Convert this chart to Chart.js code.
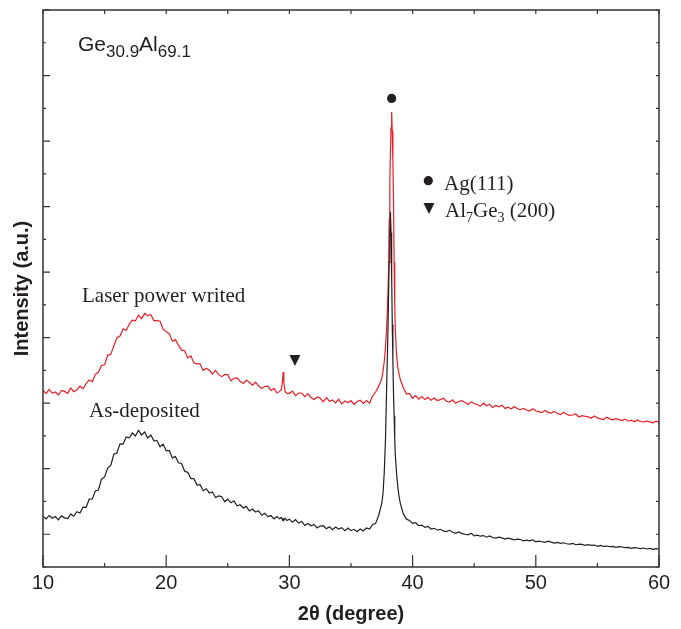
<!DOCTYPE html>
<html>
<head>
<meta charset="utf-8">
<script src="https://cdn.jsdelivr.net/npm/chart.js@4/dist/chart.umd.min.js"></script>
<style>
html,body{margin:0;padding:0;background:#fff;}
#wrap{width:681px;height:629px;}
</style>
</head>
<body>
<div id="wrap"><canvas id="c" width="681" height="629"></canvas></div>
<script>
// 2θ positions (degrees)
const twoTheta = [
  10,10.25,10.5,10.75,11,11.25,11.5,11.75,12,12.25,
  12.5,12.75,13,13.25,13.5,13.75,14,14.25,14.5,14.75,
  15,15.25,15.5,15.75,16,16.25,16.5,16.75,17,17.25,
  17.5,17.75,18,18.25,18.5,18.75,19,19.25,19.5,19.75,
  20,20.25,20.5,20.75,21,21.25,21.5,21.75,22,22.25,
  22.5,22.75,23,23.25,23.5,23.75,24,24.25,24.5,24.75,
  25,25.25,25.5,25.75,26,26.25,26.5,26.75,27,27.25,
  27.5,27.75,28,28.25,28.5,28.75,29,
  29.2,29.35,29.45,29.5,29.55,29.65,29.8,
  30,30.25,30.5,30.75,31,31.25,31.5,31.75,32,32.25,
  32.5,32.75,33,33.25,33.5,33.75,34,34.25,34.5,34.75,
  35,35.25,35.5,35.75,36,36.25,36.5,36.75,37,37.25,
  37.5,37.6,37.7,37.8,37.9,38,38.05,38.1,38.15,38.2,38.25,
  38.3,38.35,38.4,38.45,38.5,38.55,38.6,38.7,38.8,38.9,39,
  39.25,39.5,39.75,40,40.25,40.5,40.75,41,41.25,41.5,
  41.75,42,42.25,42.5,42.75,43,43.25,43.5,43.75,44,
  44.25,44.5,44.75,45,45.25,45.5,45.75,46,46.25,46.5,
  46.75,47,47.25,47.5,47.75,48,48.25,48.5,48.75,49,
  49.25,49.5,49.75,50,50.25,50.5,50.75,51,51.25,51.5,
  51.75,52,52.25,52.5,52.75,53,53.25,53.5,53.75,54,
  54.25,54.5,54.75,55,55.25,55.5,55.75,56,56.25,56.5,
  56.75,57,57.25,57.5,57.75,58,58.25,58.5,58.75,59,
  59.25,59.5,59.75,60
];

// "Laser power writed" (red)
const laserWrited = [
  5.39,5.29,5.42,5.31,5.34,5.25,5.39,5.36,5.30,5.46,
  5.35,5.41,5.52,5.44,5.60,5.71,5.66,5.88,5.95,6.15,
  6.17,6.46,6.49,6.75,6.99,7.05,7.27,7.22,7.41,7.53,
  7.51,7.69,7.58,7.74,7.67,7.70,7.52,7.52,7.50,7.26,
  7.18,7.13,6.89,6.94,6.77,6.62,6.60,6.38,6.44,6.23,
  6.20,6.20,6.00,6.06,6.01,5.89,6.00,5.87,5.81,5.87,
  5.87,5.68,5.76,5.77,5.67,5.60,5.70,5.64,5.55,5.64,
  5.53,5.45,5.51,5.52,5.39,5.45,5.31,
  5.36,5.42,5.70,5.95,5.62,5.36,5.30,
  5.30,5.37,5.23,5.31,5.31,5.20,5.29,5.17,5.11,5.19,
  5.15,5.04,5.17,5.06,5.10,5.01,5.12,4.98,5.07,5.02,
  5.08,4.96,5.05,5.09,4.99,5.08,5.00,5.22,5.34,5.52,
  5.75,5.98,6.28,6.70,7.35,8.35,9.10,10.6,11.7,12.6,13.4,
  13.89,13.3,12.4,11.2,9.3,8.0,7.2,6.45,6.10,5.90,5.72,
  5.47,5.28,5.30,5.15,5.23,5.12,5.20,5.11,5.18,5.09,
  5.16,5.08,5.11,5.15,5.06,5.03,5.10,5.00,5.05,5.08,
  5.02,4.96,5.04,4.99,4.95,4.91,5.00,4.92,4.97,4.87,
  4.93,4.89,4.94,4.84,4.88,4.82,4.90,4.83,4.80,4.84,
  4.79,4.76,4.83,4.77,4.74,4.71,4.78,4.72,4.70,4.75,
  4.69,4.65,4.72,4.66,4.63,4.64,4.67,4.58,4.62,4.60,
  4.58,4.54,4.61,4.55,4.52,4.50,4.57,4.52,4.49,4.53,
  4.50,4.47,4.51,4.45,4.48,4.43,4.49,4.44,4.42,4.46,
  4.43,4.40,4.45,4.42
];

// "As-deposited" (black)
const asDeposited = [
  1.55,1.47,1.57,1.49,1.54,1.44,1.56,1.50,1.48,1.62,
  1.55,1.69,1.65,1.83,1.82,2.07,2.08,2.32,2.35,2.68,
  2.75,3.02,3.10,3.44,3.48,3.76,3.75,3.97,3.94,4.09,
  4.00,4.17,4.03,4.12,3.94,4.03,3.85,3.86,3.67,3.75,
  3.55,3.55,3.33,3.37,3.18,3.16,2.92,2.89,2.70,2.70,
  2.50,2.51,2.33,2.39,2.26,2.29,2.12,2.17,2.15,1.99,
  2.07,1.96,2.02,1.87,1.90,1.80,1.85,1.71,1.77,1.68,
  1.72,1.58,1.64,1.54,1.57,1.47,1.54,
  1.47,1.51,1.43,1.47,1.44,1.49,1.42,
  1.46,1.37,1.45,1.34,1.39,1.27,1.33,1.26,1.30,1.19,
  1.25,1.26,1.17,1.23,1.14,1.22,1.16,1.20,1.11,1.19,
  1.11,1.15,1.08,1.16,1.10,1.19,1.16,1.29,1.33,1.58,
  1.95,2.25,2.90,3.90,5.60,7.20,8.30,9.30,10.2,10.84,10.2,
  8.90,7.40,6.30,5.30,4.60,3.90,3.40,2.85,2.45,2.15,1.95,
  1.62,1.46,1.42,1.33,1.35,1.26,1.28,1.21,1.24,1.16,
  1.18,1.13,1.15,1.10,1.08,1.12,1.06,1.03,1.07,1.02,
  1.00,0.98,1.03,0.95,0.97,0.94,0.96,0.91,0.95,0.90,
  0.88,0.91,0.89,0.85,0.88,0.86,0.83,0.85,0.84,0.80,
  0.82,0.80,0.83,0.77,0.79,0.77,0.75,0.79,0.76,0.73,
  0.75,0.72,0.74,0.71,0.70,0.72,0.68,0.70,0.69,0.66,
  0.68,0.66,0.67,0.63,0.66,0.63,0.64,0.62,0.63,0.60,
  0.62,0.61,0.59,0.60,0.57,0.59,0.58,0.56,0.58,0.55,
  0.57,0.54,0.56,0.55
];

// Axis ranges / ticks
const xTickStep = 5;
const xLabelEvery = 10;
const yTickStep = 1;

const INK = '#231f20';
const SANS = '"Liberation Sans", Arial, sans-serif';
const SERIF = '"Liberation Serif", "Times New Roman", serif';

const decor = {
  id: 'decor',
  afterDraw(chart) {
    const {ctx, chartArea: a, scales: {x, y}} = chart;
    ctx.save();
    // frame
    ctx.strokeStyle = '#333';
    ctx.lineWidth = 1.5;
    ctx.strokeRect(a.left, a.top, a.right - a.left, a.bottom - a.top);
    // inward ticks
    ctx.lineWidth = 1.2;
    ctx.beginPath();
    x.ticks.forEach(t => {
      const px = x.getPixelForValue(t.value);
      const major = Math.abs(t.value % xLabelEvery) < 1e-6;
      ctx.moveTo(px, a.bottom); ctx.lineTo(px, a.bottom - (major ? 12 : 4));
      ctx.moveTo(px, a.top); ctx.lineTo(px, a.top + 4);
    });
    y.ticks.forEach(t => {
      const py = y.getPixelForValue(t.value);
      const major = Math.round(t.value) % 2 === 1;
      ctx.moveTo(a.left, py); ctx.lineTo(a.left + (major ? 7 : 3), py);
      ctx.moveTo(a.right, py); ctx.lineTo(a.right - 3, py);
    });
    ctx.stroke();

    ctx.fillStyle = INK;
    ctx.textBaseline = 'alphabetic';
    ctx.textAlign = 'left';

    // Composition label with subscripts
    let cx = 78;
    const base = 51;
    const parts = [['Ge', false], ['30.9', true], ['Al', false], ['69.1', true]];
    parts.forEach(([s, sub]) => {
      ctx.font = (sub ? '17px ' : '21px ') + SANS;
      ctx.fillText(s, cx, sub ? base + 5.5 : base);
      cx += ctx.measureText(s).width;
    });

    // curve labels
    ctx.font = '21px ' + SERIF;
    ctx.fillText('Laser power writed', 82, 302);
    ctx.fillText('As-deposited', 89, 417);

    // peak markers
    const cxp = x.getPixelForValue(38.3), cyp = y.getPixelForValue(14.3);
    ctx.beginPath(); ctx.arc(cxp, cyp, 4.6, 0, Math.PI * 2); ctx.fill();
    const tx = x.getPixelForValue(30.45), ty = y.getPixelForValue(6.32);
    ctx.beginPath(); ctx.moveTo(tx - 5.5, ty - 5); ctx.lineTo(tx + 5.5, ty - 5); ctx.lineTo(tx, ty + 6); ctx.closePath(); ctx.fill();

    // legend
    ctx.beginPath(); ctx.arc(428.3, 180.7, 4.6, 0, Math.PI * 2); ctx.fill();
    ctx.font = '21px ' + SERIF;
    ctx.fillText('Ag(111)', 444, 190);
    ctx.beginPath(); ctx.moveTo(423.5, 203); ctx.lineTo(434.5, 203); ctx.lineTo(429, 214); ctx.closePath(); ctx.fill();
    let lx = 445;
    const lb = 216.7;
    [['Al', false], ['7', true], ['Ge', false], ['3', true], [' (200)', false]].forEach(([s, sub]) => {
      ctx.font = (sub ? '14px ' : '21px ') + SERIF;
      ctx.fillText(s, lx, sub ? lb + 5 : lb);
      lx += ctx.measureText(s).width;
    });
    ctx.restore();
  }
};

new Chart(document.getElementById('c'), {
  type: 'line',
  data: {
    datasets: [
      {
        label: 'As-deposited',
        data: twoTheta.map((t, i) => ({x: t, y: asDeposited[i]})),
        borderColor: INK, borderWidth: 1.2, pointRadius: 0, tension: 0, fill: false
      },
      {
        label: 'Laser power writed',
        data: twoTheta.map((t, i) => ({x: t, y: laserWrited[i]})),
        borderColor: '#ed1c24', borderWidth: 1.2, pointRadius: 0, tension: 0, fill: false
      }
    ]
  },
  options: {
    responsive: false,
    animation: false,
    layout: {padding: {top: 10, right: 22, left: 0, bottom: 0}},
    plugins: {legend: {display: false}, tooltip: {enabled: false}},
    scales: {
      x: {
        type: 'linear', min: 10, max: 60,
        ticks: {
          stepSize: xTickStep, autoSkip: false, maxRotation: 0, padding: 4,
          color: INK, font: {family: SANS, size: 20},
          callback: v => (Math.abs(v % xLabelEvery) < 1e-6 ? String(v) : '')
        },
        grid: {display: false, drawTicks: false},
        border: {display: false},
        title: {display: true, text: '2θ (degree)', color: INK,
          font: {family: SANS, size: 20, weight: 'bold'}, padding: {top: 0, bottom: 3}},
        afterFit: s => { s.height = 62; }
      },
      y: {
        min: 0, max: 17,
        ticks: {stepSize: yTickStep, display: false},
        grid: {display: false, drawTicks: false},
        border: {display: false},
        title: {display: true, text: 'Intensity (a.u.)', color: INK,
          font: {family: SANS, size: 20, weight: 'bold'}, padding: {top: 10, bottom: 0}},
        afterFit: s => { s.width = 43; }
      }
    }
  },
  plugins: [decor]
});
</script>
</body>
</html>
